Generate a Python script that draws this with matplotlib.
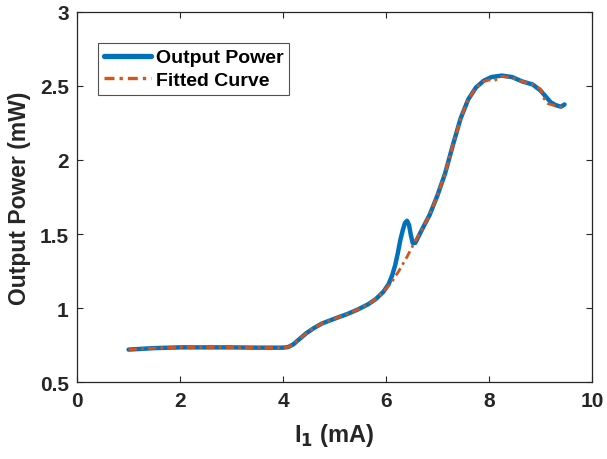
import matplotlib
matplotlib.use("Agg")
from matplotlib import pyplot as plt

current_meas = [1.0, 1.5, 2.0, 2.5, 3.0, 3.5, 4.0, 4.1, 4.2, 4.3, 4.45, 4.6, 4.75, 4.9,
                5.05, 5.25, 5.45, 5.65, 5.8, 5.95, 6.05, 6.12, 6.18, 6.23, 6.28, 6.33,
                6.37, 6.41, 6.45, 6.48, 6.52, 6.57, 6.7, 6.85, 7.0, 7.15, 7.3, 7.45,
                7.6, 7.75, 7.9, 8.05, 8.25, 8.45, 8.65, 8.85, 9.0, 9.1, 9.2, 9.3,
                9.4, 9.47]
power_meas = [0.72, 0.73, 0.735, 0.735, 0.735, 0.733, 0.733, 0.737, 0.755, 0.785, 0.83,
              0.865, 0.895, 0.915, 0.935, 0.96, 0.99, 1.025, 1.06, 1.11, 1.16, 1.22,
              1.29, 1.37, 1.46, 1.53, 1.575, 1.59, 1.56, 1.5, 1.44, 1.44, 1.53, 1.63,
              1.76, 1.91, 2.10, 2.28, 2.41, 2.49, 2.535, 2.56, 2.57, 2.56, 2.53, 2.51,
              2.47, 2.43, 2.39, 2.37, 2.36, 2.375]

# fitted curve
current_fit = [1.0, 1.5, 2.0, 2.5, 3.0, 3.5, 4.0, 4.1, 4.2, 4.3, 4.45, 4.6, 4.75, 4.9,
               5.05, 5.25, 5.45, 5.65, 5.8, 5.95, 6.1, 6.25, 6.4, 6.55, 6.7, 6.85,
               7.0, 7.15, 7.3, 7.45, 7.6, 7.75, 7.9, 8.0, 8.1, 8.25, 8.45, 8.65, 8.85,
               9.0, 9.08, 9.15, 9.25, 9.35, 9.47]
power_fit = [0.72, 0.73, 0.735, 0.735, 0.735, 0.733, 0.733, 0.737, 0.755, 0.785, 0.83,
             0.865, 0.895, 0.915, 0.935, 0.96, 0.99, 1.025, 1.06, 1.11, 1.17, 1.25,
             1.34, 1.44, 1.53, 1.63, 1.76, 1.91, 2.10, 2.28, 2.41, 2.49, 2.53, 2.54,
             2.535, 2.565, 2.555, 2.53, 2.51, 2.48, 2.41, 2.38, 2.37, 2.36, 2.355]

plt.rcParams['font.family'] = ['Liberation Sans', 'DejaVu Sans']
plt.rcParams['font.weight'] = 'bold'

fig = plt.figure(figsize=(6.07, 4.6), dpi=100)
ax = fig.add_axes([0.127, 0.167, 0.848, 0.805])

ax.plot(current_meas, power_meas, color='#0072BD', lw=3.2, label='Output Power',
        solid_capstyle='round', solid_joinstyle='round')
ax.plot(current_fit, power_fit, color='#D95319', lw=2.0, label='Fitted Curve',
        linestyle=(0, (3, 1.5, 1, 1.5)))

ax.set_xlim(0, 10)
ax.set_ylim(0.5, 3)
ax.set_xticks([0, 2, 4, 6, 8, 10])
ax.set_yticks([0.5, 1, 1.5, 2, 2.5, 3])
ax.set_yticklabels(['0.5', '1', '1.5', '2', '2.5', '3'])
ax.tick_params(direction='in', length=4, width=0.8, top=True, right=True,
               labelsize=15, colors='#262626', pad=6)
for lbl in ax.get_xticklabels() + ax.get_yticklabels():
    lbl.set_fontweight('bold')
for sp in ax.spines.values():
    sp.set_color('#262626')
    sp.set_linewidth(0.9)

ax.set_xlabel('I$_\\mathbf{1}$ (mA)', fontsize=17, fontweight='bold', color='#262626',
              labelpad=8)
ax.set_ylabel('Output Power (mW)', fontsize=16.5, fontweight='bold', color='#262626',
              labelpad=6)

leg = ax.legend(loc='upper left', bbox_to_anchor=(0.041, 0.916), fontsize=14,
                frameon=True, fancybox=False, edgecolor='#262626',
                handlelength=2.4, borderpad=0.3, labelspacing=0.25,
                handletextpad=0.25, borderaxespad=0)
leg.get_frame().set_linewidth(0.8)
for line in leg.get_lines():
    line.set_linewidth(line.get_linewidth() * 1.2)

fig.savefig('out.png', dpi=100)
